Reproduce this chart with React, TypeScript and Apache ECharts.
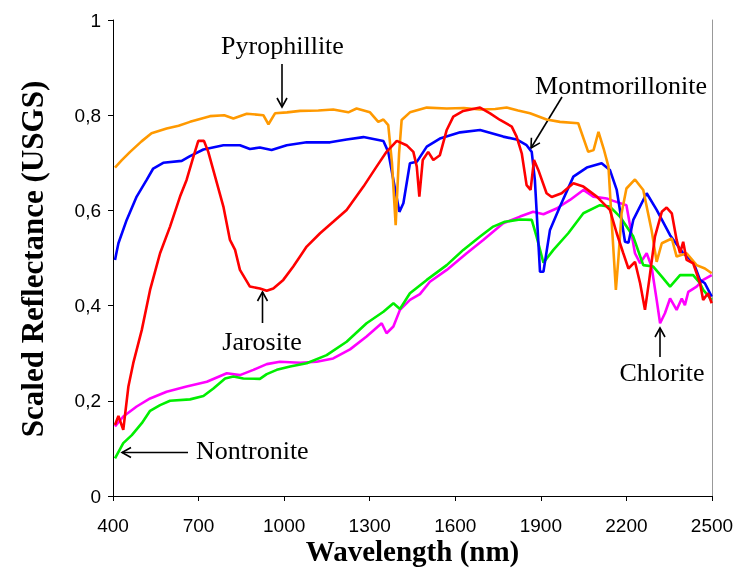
import React, { useEffect, useRef } from "react";
import * as echarts from "echarts";

const xTicks = [400, 700, 1000, 1300, 1600, 1900, 2200, 2500];

const pyroX = [407, 430, 460, 500, 535, 588, 630, 670, 740, 790, 822, 869, 927, 945, 968, 1010, 1056, 1120, 1172, 1225, 1254, 1301, 1330, 1348, 1365, 1378, 1391, 1403, 1412, 1441, 1500, 1570, 1630, 1687, 1740, 1780, 1820, 1862, 1920, 1967, 2031, 2066, 2085, 2102, 2120, 2137, 2150, 2163, 2172, 2183, 2200, 2230, 2259, 2288, 2306, 2324, 2359, 2376, 2411, 2446, 2475, 2499];
const pyroY = [0.69, 0.705, 0.723, 0.745, 0.762, 0.772, 0.778, 0.786, 0.798, 0.8, 0.793, 0.803, 0.8, 0.781, 0.804, 0.806, 0.809, 0.81, 0.812, 0.806, 0.814, 0.806, 0.786, 0.791, 0.779, 0.7, 0.569, 0.72, 0.79, 0.806, 0.816, 0.814, 0.815, 0.812, 0.813, 0.816, 0.81, 0.804, 0.791, 0.786, 0.783, 0.723, 0.727, 0.765, 0.73, 0.692, 0.56, 0.433, 0.5, 0.594, 0.646, 0.665, 0.643, 0.559, 0.492, 0.531, 0.541, 0.503, 0.51, 0.485, 0.478, 0.468];

const montX = [407, 419, 448, 483, 518, 541, 576, 641, 670, 717, 787, 845, 880, 915, 956, 1009, 1079, 1161, 1219, 1278, 1348, 1365, 1383, 1404, 1418, 1441, 1465, 1500, 1546, 1617, 1687, 1768, 1815, 1850, 1868, 1879, 1897, 1909, 1932, 1967, 2014, 2061, 2113, 2142, 2166, 2195, 2207, 2224, 2271, 2306, 2353, 2399, 2434, 2458, 2475, 2499];
const montY = [0.496, 0.531, 0.58, 0.629, 0.664, 0.688, 0.7, 0.704, 0.714, 0.728, 0.737, 0.737, 0.729, 0.732, 0.727, 0.737, 0.743, 0.743, 0.749, 0.754, 0.746, 0.723, 0.664, 0.597, 0.615, 0.699, 0.702, 0.734, 0.751, 0.764, 0.769, 0.755, 0.749, 0.737, 0.723, 0.664, 0.471, 0.471, 0.559, 0.608, 0.671, 0.69, 0.699, 0.685, 0.643, 0.534, 0.532, 0.58, 0.636, 0.601, 0.548, 0.51, 0.492, 0.454, 0.447, 0.419];

const jaroX = [407, 419, 436, 454, 471, 501, 530, 565, 600, 635, 658, 682, 699, 719, 734, 758, 787, 810, 828, 845, 880, 915, 939, 962, 997, 1032, 1079, 1126, 1172, 1219, 1278, 1324, 1359, 1395, 1429, 1453, 1465, 1474, 1486, 1505, 1523, 1546, 1570, 1593, 1628, 1687, 1722, 1757, 1798, 1815, 1833, 1850, 1864, 1876, 1891, 1920, 1938, 1973, 2014, 2049, 2096, 2142, 2166, 2189, 2207, 2230, 2248, 2265, 2280, 2300, 2324, 2341, 2359, 2376, 2388, 2399, 2411, 2434, 2458, 2469, 2486, 2499];
const jaroY = [0.149, 0.168, 0.139, 0.23, 0.279, 0.349, 0.433, 0.51, 0.566, 0.629, 0.664, 0.713, 0.746, 0.746, 0.723, 0.671, 0.608, 0.538, 0.517, 0.475, 0.44, 0.436, 0.431, 0.436, 0.454, 0.482, 0.524, 0.552, 0.576, 0.601, 0.65, 0.692, 0.723, 0.746, 0.737, 0.723, 0.692, 0.629, 0.706, 0.723, 0.706, 0.716, 0.769, 0.797, 0.809, 0.816, 0.804, 0.79, 0.776, 0.755, 0.72, 0.653, 0.643, 0.706, 0.685, 0.636, 0.628, 0.636, 0.657, 0.65, 0.629, 0.601, 0.552, 0.51, 0.478, 0.492, 0.447, 0.391, 0.454, 0.545, 0.597, 0.606, 0.594, 0.538, 0.51, 0.534, 0.496, 0.489, 0.447, 0.412, 0.426, 0.405];

const nontX = [407, 436, 466, 501, 530, 565, 600, 670, 717, 752, 793, 822, 857, 915, 939, 974, 1021, 1079, 1149, 1219, 1289, 1348, 1383, 1406, 1441, 1500, 1570, 1628, 1687, 1733, 1774, 1827, 1868, 1885, 1909, 1944, 1996, 2049, 2107, 2142, 2177, 2224, 2259, 2294, 2324, 2353, 2388, 2434, 2458, 2469, 2499];
const nontY = [0.079, 0.111, 0.128, 0.153, 0.179, 0.191, 0.2, 0.203, 0.21, 0.226, 0.247, 0.251, 0.247, 0.246, 0.256, 0.265, 0.272, 0.279, 0.296, 0.324, 0.363, 0.387, 0.405, 0.393, 0.426, 0.454, 0.485, 0.517, 0.545, 0.566, 0.576, 0.581, 0.58, 0.545, 0.49, 0.517, 0.552, 0.594, 0.611, 0.608, 0.587, 0.545, 0.485, 0.482, 0.461, 0.44, 0.464, 0.464, 0.447, 0.433, 0.412];

const chloX = [407, 436, 483, 530, 588, 658, 729, 764, 799, 845, 892, 939, 985, 1056, 1114, 1172, 1231, 1289, 1342, 1359, 1383, 1406, 1441, 1476, 1511, 1570, 1640, 1698, 1768, 1827, 1873, 1909, 1955, 2002, 2049, 2084, 2131, 2154, 2200, 2230, 2248, 2271, 2288, 2306, 2318, 2335, 2353, 2376, 2394, 2405, 2417, 2446, 2469, 2499];
const chloY = [0.146, 0.167, 0.188, 0.205, 0.219, 0.23, 0.24, 0.249, 0.258, 0.254, 0.265, 0.277, 0.282, 0.28, 0.282, 0.289, 0.308, 0.335, 0.363, 0.342, 0.356, 0.391, 0.412, 0.424, 0.45, 0.475, 0.51, 0.538, 0.573, 0.587, 0.597, 0.592, 0.604, 0.622, 0.643, 0.629, 0.625, 0.62, 0.611, 0.51, 0.489, 0.51, 0.482, 0.412, 0.363, 0.384, 0.415, 0.391, 0.415, 0.401, 0.429, 0.44, 0.454, 0.464];

const seriesDefs = [
  { name: "Chlorite", xs: chloX, ys: chloY, color: "#FF00FF" },
  { name: "Nontronite", xs: nontX, ys: nontY, color: "#00EE00" },
  { name: "Montmorillonite", xs: montX, ys: montY, color: "#0000FF" },
  { name: "Pyrophillite", xs: pyroX, ys: pyroY, color: "#FF9900" },
  { name: "Jarosite", xs: jaroX, ys: jaroY, color: "#FF0000" },
];

const annotations = [
  { text: "Pyrophillite", tx: 282.5, ty: 45, align: "center", a: [282, 64, 282, 107] },
  { text: "Montmorillonite", tx: 621, ty: 85, align: "center", a: [562, 97, 531, 148] },
  { text: "Jarosite", tx: 262, ty: 341, align: "center", a: [262.5, 323, 262.5, 292] },
  { text: "Chlorite", tx: 662, ty: 372, align: "center", a: [660, 357, 660, 328] },
  { text: "Nontronite", tx: 196, ty: 450, align: "left", a: [188, 452.5, 122, 452.5] },
];

function arrow(x1: number, y1: number, x2: number, y2: number) {
  const dx = x2 - x1, dy = y2 - y1;
  const len = Math.sqrt(dx * dx + dy * dy);
  const ux = dx / len, uy = dy / len;
  const nx = -uy, ny = ux;
  const L = 9, W = 5;
  return [
    { type: "line", shape: { x1, y1, x2, y2 }, style: { stroke: "#000", lineWidth: 1.6 } },
    {
      type: "polyline",
      shape: {
        points: [
          [x2 - ux * L + nx * W, y2 - uy * L + ny * W],
          [x2, y2],
          [x2 - ux * L - nx * W, y2 - uy * L - ny * W],
        ],
      },
      style: { stroke: "#000", lineWidth: 1.6, fill: null },
    },
  ];
}

export default function App() {
  const ref = useRef<HTMLDivElement>(null);
  useEffect(() => {
    const chart = echarts.init(ref.current!, null, { renderer: "svg" });
    const graphics: any[] = [];
    annotations.forEach((an) => {
      graphics.push({
        type: "text",
        x: an.tx,
        y: an.ty,
        style: {
          text: an.text,
          font: '26px "Liberation Serif", serif',
          fill: "#000",
          textAlign: an.align,
          textVerticalAlign: "middle",
        },
      });
      arrow(an.a[0], an.a[1], an.a[2], an.a[3]).forEach((g) => graphics.push(g));
    });
    graphics.push({
      type: "text",
      x: 412.5,
      y: 551,
      style: {
        text: "Wavelength (nm)",
        font: 'bold 29px "Liberation Serif", serif',
        fill: "#000",
        textAlign: "center",
        textVerticalAlign: "middle",
      },
    });
    graphics.push({
      type: "text",
      x: 32,
      y: 259,
      rotation: Math.PI / 2,
      style: {
        text: "Scaled Reflectance (USGS)",
        font: 'bold 31px "Liberation Serif", serif',
        fill: "#000",
        textAlign: "center",
        textVerticalAlign: "middle",
      },
    });

    const labelStyle = { fontFamily: '"Liberation Sans", Arial, sans-serif', fontSize: 19, color: "#000" };
    const option: any = {
      animation: false,
      grid: { left: 113, right: 26, top: 20, bottom: 74 },
      xAxis: {
        type: "value",
        min: 400,
        max: 2500,
        axisLine: { show: true, lineStyle: { color: "#000", width: 1 } },
        axisTick: { show: true, length: 5, inside: false, customValues: xTicks, lineStyle: { color: "#000" } },
        axisLabel: { ...labelStyle, customValues: xTicks, margin: 20, formatter: (v: number) => String(v) },
        splitLine: { show: false },
      },
      yAxis: [
        {
          type: "value",
          min: 0,
          max: 1,
          interval: 0.2,
          axisLine: { show: true, lineStyle: { color: "#000", width: 1 } },
          axisTick: { show: true, length: 5, inside: false, lineStyle: { color: "#000" } },
          axisLabel: {
            ...labelStyle,
            margin: 12,
            formatter: (v: number) => String(Number(v.toFixed(1))).replace(".", ","),
          },
          splitLine: { show: false },
        },
        {
          type: "value",
          position: "right",
          min: 0,
          max: 1,
          axisLine: { show: true, lineStyle: { color: "#999", width: 1 } },
          axisTick: { show: false },
          axisLabel: { show: false },
          splitLine: { show: false },
        },
      ],
      series: seriesDefs.map((s) => ({
        name: s.name,
        type: "line",
        data: s.xs.map((x, i) => [x, s.ys[i]]),
        showSymbol: false,
        symbol: "none",
        silent: true,
        lineStyle: { color: s.color, width: 2.6 },
        itemStyle: { color: s.color },
      })),
      graphic: graphics,
    };
    chart.setOption(option);
    return () => chart.dispose();
  }, []);
  return <div ref={ref} style={{ position: "fixed", left: 0, top: 0, width: 738, height: 570 }} />;
}
